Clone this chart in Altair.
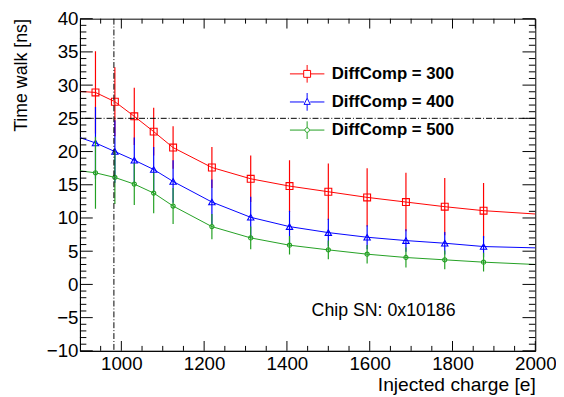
import altair as alt
import pandas as pd

FONT = "Liberation Sans"
W, H = 462, 337

# ---- data ----
charge = [937.5, 984.375, 1031.25, 1078.125, 1125.0, 1218.75, 1312.5,
          1406.25, 1500.0, 1593.75, 1687.5, 1781.25, 1875.0]
series_labels = ["DiffComp = 300", "DiffComp = 400", "DiffComp = 500"]
series_colors = ["#ff0000", "#0000ff", "#22a022"]

walk_300 = [28.9, 27.5, 25.3, 23.0, 20.6, 17.6, 15.9, 14.8, 13.95, 13.1, 12.4, 11.7, 11.1]
err_300 = [6.2, 5.2, 4.3, 3.6, 3.2, 3.1, 3.5, 3.9, 4.25, 4.4, 4.4, 4.3, 4.15]
walk_400 = [21.3, 20.0, 18.7, 17.3, 15.5, 12.4, 10.1, 8.7, 7.8, 7.1, 6.6, 6.2, 5.7]
err_400 = [5.4, 4.7, 3.4, 3.4, 3.2, 3.4, 3.1, 2.4, 2.1, 1.8, 1.7, 1.7, 1.6]
walk_500 = [16.8, 16.1, 15.1, 13.75, 11.8, 8.7, 7.0, 5.9, 5.2, 4.55, 4.05, 3.7, 3.35]
err_500 = [5.4, 4.0, 3.15, 3.05, 2.7, 1.9, 1.7, 1.4, 1.4, 1.4, 1.5, 1.4, 1.4]

# fitted curves: values at the axis ends plus through the points
fit_charge = [900.0] + charge + [2000.0]
fit_300 = [29.05] + walk_300 + [10.6]
fit_400 = [22.1] + walk_400 + [5.5]
fit_500 = [17.1] + walk_500 + [3.0]

threshold_charge = [982.0]
walk_limit = [25.0]
chip_label = ["Chip SN: 0x10186"]

x_major = [1000, 1200, 1400, 1600, 1800, 2000]
x_minor = [v for v in range(950, 2000, 50) if v % 200 != 0]
y_major = list(range(-10, 41, 5))
y_minor = [v for v in range(-9, 40) if v % 5 != 0]

# legend symbols (line + error bar + marker), in [-1, 1] units
legend_paths = [
    "M-1,0H-0.2M0.2,0H1M0,-0.52V-0.2M0,0.2V0.52M-0.2,-0.2H0.2V0.2H-0.2Z",
    "M-1,0H-0.18M0.18,0H1M0,-0.52V-0.22M0,0.14V0.52M0,-0.22L0.18,0.14L-0.18,0.14Z",
    "M-1,0H-0.13M0.13,0H1M0,-0.52V-0.13M0,0.13V0.52M-0.13,0A0.13,0.13 0 1,0 0.13,0A0.13,0.13 0 1,0 -0.13,0Z",
]

xs = alt.Scale(domain=[900, 2000], nice=False, zero=False)
ys = alt.Scale(domain=[-10, 40], nice=False, zero=False)

x_axis = alt.Axis(values=x_major, format="d", title="Injected charge [e]",
                  labelFont=FONT, labelFontSize=19, labelColor="black", labelPadding=4,
                  ticks=False, tickSize=0, domain=True, domainColor="black", domainWidth=1,
                  grid=False, titleFont=FONT, titleFontSize=19.5, titleFontWeight="normal",
                  titleColor="black", titleAlign="right", titleX=W, titleY=40.5,
                  titleBaseline="alphabetic", labelFlush=False)
y_axis = alt.Axis(values=y_major, format="d", title="Time walk [ns]",
                  labelFont=FONT, labelFontSize=19, labelColor="black", labelPadding=2,
                  ticks=False, tickSize=0, domain=True, domainColor="black", domainWidth=1,
                  grid=False, titleFont=FONT, titleFontSize=18, titleFontWeight="normal",
                  titleColor="black", titleAngle=270, titleAlign="right", titleX=-59.5,
                  titleY=0, titleBaseline="middle")


def X(field):
    return alt.X(field, scale=xs, axis=x_axis)


def Y(field):
    return alt.Y(field, scale=ys, axis=y_axis)


series = [
    (series_colors[0], fit_300, walk_300, err_300, "square", 49),
    (series_colors[1], fit_400, walk_400, err_400, "triangle-up", 42),
    (series_colors[2], fit_500, walk_500, err_500, "circle", 18),
]

layers = []
for color, fit, walk, err, shape, size in series:
    fdf = pd.DataFrame({"charge": fit_charge, "walk": fit})
    pdf = pd.DataFrame({"charge": charge, "walk": walk, "err": err})
    line = alt.Chart(fdf).mark_line(strokeWidth=1, clip=True, color=color).encode(
        x=X("charge:Q"), y=Y("walk:Q"), order="charge:Q")
    bars = alt.Chart(pdf).transform_calculate(
        lo="datum.walk - datum.err", hi="datum.walk + datum.err"
    ).mark_rule(strokeWidth=1.2, color=color, clip=True).encode(
        x=X("charge:Q"), y=Y("lo:Q"), y2="hi:Q")
    pts = alt.Chart(pdf).mark_point(shape=shape, size=size, filled=False,
                                    strokeWidth=1.1, color=color, opacity=1).encode(
        x=X("charge:Q"), y=Y("walk:Q"))
    layers += [line, bars, pts]

dash = [6, 2, 1, 2]
vline = alt.Chart(pd.DataFrame({"charge": threshold_charge})).mark_rule(
    color="black", strokeWidth=1, strokeDash=dash).encode(x=X("charge:Q"))
hline = alt.Chart(pd.DataFrame({"walk": walk_limit})).mark_rule(
    color="black", strokeWidth=1, strokeDash=dash).encode(y=Y("walk:Q"))
layers += [vline, hline]


def xticks(vals, length, top):
    y0, y1 = (0, length) if top else (H, H - length)
    return alt.Chart(pd.DataFrame({"charge": vals})).mark_rule(color="black", strokeWidth=1).encode(
        x=X("charge:Q"), y=alt.value(y0), y2=alt.value(y1))


def yticks(vals, length, right):
    x0, x1 = (W, W - length) if right else (0, length)
    return alt.Chart(pd.DataFrame({"walk": vals})).mark_rule(color="black", strokeWidth=1).encode(
        y=Y("walk:Q"), x=alt.value(x0), x2=alt.value(x1))


layers += [xticks(x_major, 10, False), xticks(x_minor, 5, False),
           xticks(x_major, 10, True), xticks(x_minor, 5, True),
           yticks(y_major, 13, False), yticks(y_minor, 6.5, False),
           yticks(y_major, 13, True), yticks(y_minor, 6.5, True)]

chip = alt.Chart(pd.DataFrame({"t": chip_label})).mark_text(
    align="left", baseline="alphabetic", font=FONT, fontSize=18, color="black").encode(
    text="t:N", x=alt.value(235), y=alt.value(302))
layers.append(chip)

legend = alt.Legend(orient="none", legendX=212.5, legendY=47, title=None,
                    labelFont=FONT, labelFontSize=17, labelFontWeight="bold",
                    labelColor="black", labelOffset=7, symbolSize=1225,
                    clipHeight=18, rowPadding=10.5, padding=0, symbolStrokeWidth=1,
                    symbolOpacity=1, symbolFillColor="transparent")
leg = alt.Chart(pd.DataFrame({"series": series_labels})).transform_filter("false").mark_point(
    filled=False, strokeWidth=1).encode(
    color=alt.Color("series:N", scale=alt.Scale(domain=series_labels, range=series_colors), legend=legend),
    shape=alt.Shape("series:N", scale=alt.Scale(domain=series_labels, range=legend_paths), legend=legend),
)
layers.append(leg)

chart = alt.layer(*layers).properties(
    width=W, height=H,
    autosize=alt.AutoSizeParams(type="none"),
    padding={"left": 73, "top": 8, "right": 21, "bottom": 45},
    background="white",
).configure_view(stroke="black", strokeWidth=1)

chart.save("out.html", embed_options={"renderer": "svg", "actions": False})
